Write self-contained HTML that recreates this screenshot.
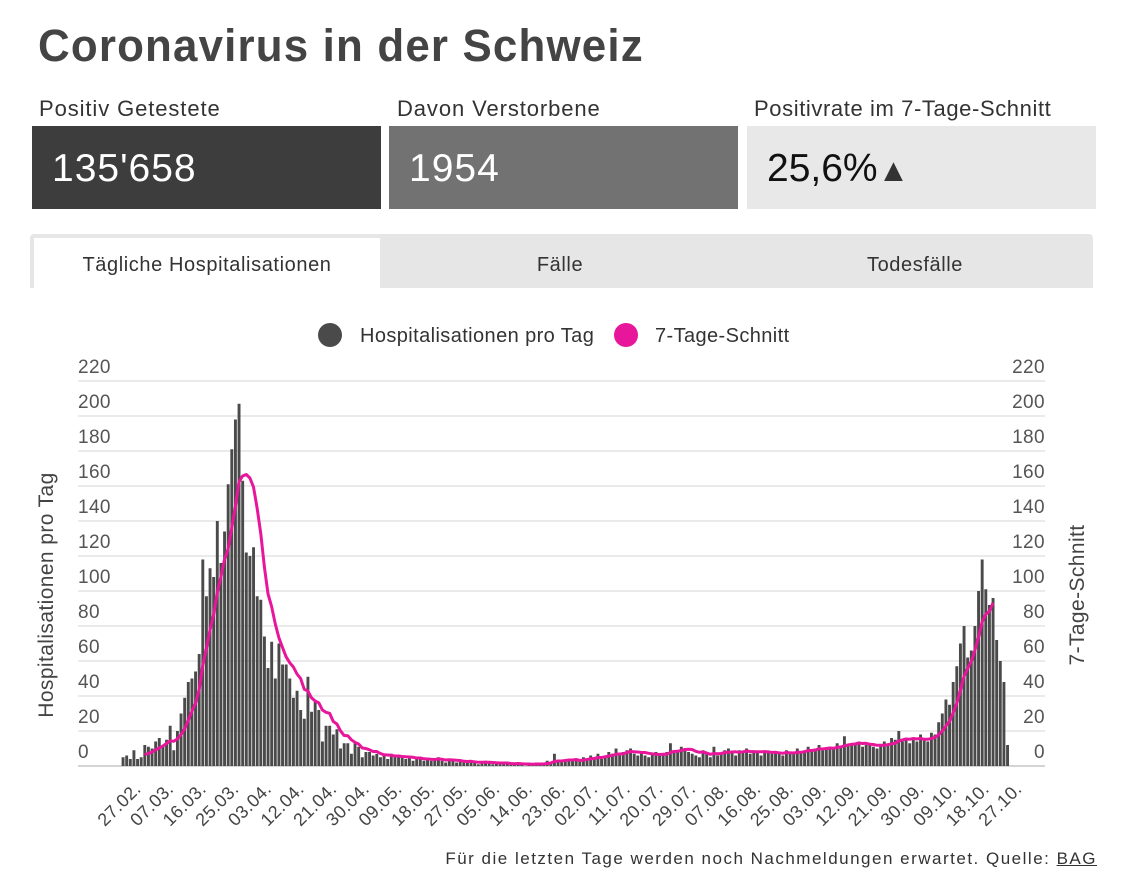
<!DOCTYPE html>
<html><head><meta charset="utf-8">
<style>
body{margin:0;background:#fff;font-family:"Liberation Sans","DejaVu Sans",sans-serif;}
#wrap{position:relative;width:1125px;height:878px;overflow:hidden;}
.abs{position:absolute;}
svg text{letter-spacing:0.4px;}
</style></head>
<body>
<div id="wrap">
<div class="abs" style="left:38px;top:20px;font-size:45px;letter-spacing:1.2px;color:#444;font-weight:bold;transform:scaleX(0.975);transform-origin:left;">Coronavirus in der Schweiz</div>
<div class="abs" style="left:39px;top:96px;font-size:22px;letter-spacing:0.9px;color:#333;">Positiv Getestete</div>
<div class="abs" style="left:397px;top:96px;font-size:22px;letter-spacing:0.9px;color:#333;">Davon Verstorbene</div>
<div class="abs" style="left:754px;top:96px;font-size:22px;letter-spacing:0.6px;color:#333;">Positivrate im 7-Tage-Schnitt</div>
<div class="abs" style="left:32px;top:126px;width:349px;height:83px;background:#3d3d3d;color:#fff;font-size:39px;letter-spacing:1px;line-height:86px;box-sizing:border-box;padding-left:20px;">135'658</div>
<div class="abs" style="left:389px;top:126px;width:349px;height:83px;background:#727272;color:#fff;font-size:39px;letter-spacing:1px;line-height:86px;box-sizing:border-box;padding-left:20px;">1954</div>
<div class="abs" style="left:747px;top:126px;width:349px;height:83px;background:#e8e8e8;color:#111;font-size:39px;line-height:86px;box-sizing:border-box;padding-left:20px;">25,6%<span style="font-size:32px;color:#333;">▲</span></div>
<div class="abs" style="left:30px;top:234px;width:1063px;height:54px;background:#e6e6e6;border-radius:4px 4px 0 0;"></div>
<div class="abs" style="left:34px;top:238px;width:346px;height:50px;background:#fff;font-size:20px;letter-spacing:0.6px;color:#333;text-align:center;line-height:54px;">Tägliche Hospitalisationen</div>
<div class="abs" style="left:380px;top:238px;width:360px;height:50px;font-size:20px;letter-spacing:0.6px;color:#333;text-align:center;line-height:54px;">Fälle</div>
<div class="abs" style="left:740px;top:238px;width:350px;height:50px;font-size:20px;letter-spacing:0.6px;color:#333;text-align:center;line-height:54px;">Todesfälle</div>
<svg id="chart" class="abs" style="left:0;top:0" width="1125" height="878"></svg>
<div class="abs" style="right:28px;top:849px;font-size:17px;letter-spacing:1.5px;color:#333;">Für die letzten Tage werden noch Nachmeldungen erwartet. Quelle: <span style="text-decoration:underline;">BAG</span></div>
</div>
<script>
const hosp = [5,6,4,9,4,5,12,11,10,14,16,12,15,23,9,20,30,39,48,50,54,64,118,97,113,108,140,116,134,161,181,198,207,163,122,120,125,97,95,74,56,71,50,70,58,58,50,39,43,32,27,51,31,37,32,14,23,23,18,21,10,13,13,7,13,11,5,8,
8,6,7,5,6,4,7,5,6,5,4,5,3,4,5,3,4,3,4,5,3,2,4,3,2,3,2,
2,3,2,1,2,3,2,1,2,1,1,2,1,1,2,1,0,1,1,2,1,2,3,2,7,3,2,3,4,3,
4,3,5,4,6,5,7,4,6,8,7,10,6,8,9,10,7,6,8,6,5,7,8,6,7,8,13,9,8,11,10,
8,7,6,5,9,7,5,11,6,7,9,10,8,6,9,8,10,7,9,8,6,9,8,7,8,7,6,9,8,7,10,
8,9,11,9,10,12,9,10,11,10,13,11,17,12,13,12,14,11,12,13,11,10,12,14,13,16,15,20,14,16,
13,16,14,18,16,14,19,18,25,30,38,35,48,57,70,80,62,66,80,100,118,101,92,96,72,60,48,12];
const yTicks = [0,20,40,60,80,100,120,140,160,180,200,220];
const xLabels = ["27.02.","07.03.","16.03.","25.03.","03.04.","12.04.","21.04.","30.04.","09.05.","18.05.","27.05.","05.06.","14.06.","23.06.","02.07.","11.07.","20.07.","29.07.","07.08.","16.08.","25.08.","03.09.","12.09.","21.09.","30.09.","09.10.","18.10.","27.10."];
const avgSkipEnd = 4;

const NS="http://www.w3.org/2000/svg";
const svg=document.getElementById('chart');
function mk(t,a,p){const e=document.createElementNS(NS,t);for(const k in a)e.setAttribute(k,a[k]);(p||svg).appendChild(e);return e;}
const x0=123, step=3.625, yBase=766, yScale=1.75;
const X=i=>x0+i*step;
const Y=v=>yBase-v*yScale;

yTicks.forEach(v=>{
 const l=mk('line',{x1:78,x2:1045,y1:Y(v),y2:Y(v),stroke:v===0?'#bbb':'#ddd','stroke-width':1.3});
 
 
 const t=mk('text',{x:78,y:Y(v)-8,'font-size':19,fill:'#555'});t.textContent=v;
 
 
 const t2=mk('text',{x:1045,y:Y(v)-8,'font-size':19,fill:'#555','text-anchor':'end'});t2.textContent=v;
 
 
});
hosp.forEach((v,i)=>{
 const r=mk('rect',{x:X(i)-1.4,y:Y(v),width:2.9,height:v*yScale,fill:'#4a4a4a'});
 
 
});
let pts=[];
for(let i=6;i<hosp.length-avgSkipEnd;i++){let s=0;for(let k=i-6;k<=i;k++)s+=hosp[k];pts.push(X(i).toFixed(1)+','+Y(s/7).toFixed(1));}
const pl=mk('polyline',{points:pts.join(' '),fill:'none',stroke:'#e8169b','stroke-width':3,'stroke-linejoin':'round'});


xLabels.forEach((s,j)=>{
 const tx=X(j*9)+19, ty=790;
 const t=mk('text',{x:tx,y:ty,'font-size':18,fill:'#444','text-anchor':'end',transform:`rotate(-45 ${tx} ${ty})`});t.textContent=s;
 
 
});
const yl=mk('text',{x:53,y:595,'font-size':21,fill:'#444','text-anchor':'middle',transform:'rotate(-90 53 595)'});yl.textContent='Hospitalisationen pro Tag';


const yr=mk('text',{x:1084,y:595,'font-size':21,fill:'#444','text-anchor':'middle',transform:'rotate(-90 1084 595)'});yr.textContent='7-Tage-Schnitt';


const g=mk('g',{});


const c1=mk('circle',{cx:330,cy:335,r:12,fill:'#4a4a4a'},g);


const lt1=mk('text',{x:360,y:342,'font-size':20,fill:'#333'},g);lt1.textContent='Hospitalisationen pro Tag';


const c2=mk('circle',{cx:626,cy:335,r:12,fill:'#e8169b'},g);


const lt2=mk('text',{x:655,y:342,'font-size':20,fill:'#333'},g);lt2.textContent='7-Tage-Schnitt';


</script>
</body></html>
